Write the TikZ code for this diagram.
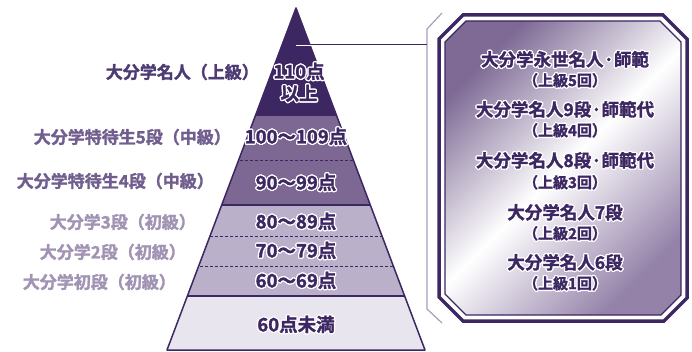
\documentclass[tikz,border=0pt]{standalone}
\usepackage{fontspec}
\setmainfont{Noto Sans CJK JP}[BoldFont={* Bold}, BoldFeatures={FakeBold=1.6}]
\usepackage[copies]{contour}
\contourlength{1.3pt}
\contournumber{12}
\usetikzlibrary{positioning}
\definecolor{pyrdark}{HTML}{3C2762}
\definecolor{pyrmid}{HTML}{7C6892}
\definecolor{pyrlight}{HTML}{BBB0C9}
\definecolor{pyrpale}{HTML}{E9E5EF}
\definecolor{lbltop}{HTML}{4D3B73}
\definecolor{lblmid}{HTML}{705E8E}
\definecolor{lbllow}{HTML}{A193B3}
\definecolor{brkline}{HTML}{A99DBC}
\definecolor{boxlow}{HTML}{7E6A95}
\definecolor{boxhigh}{HTML}{9482A9}

\tikzset{
  edge/.style={draw=pyrdark, line width=1.5pt},
  lbl/.style={anchor=east, font=\bfseries\fontsize{17}{17}\selectfont, inner sep=0pt},
  num/.style={text=pyrdark, font=\bfseries\fontsize{18.5}{18.5}\selectfont, inner sep=0pt},
  rank/.style={text=pyrdark, font=\bfseries\fontsize{17.5}{17.5}\selectfont, inner sep=0pt},
  times/.style={text=pyrdark, font=\bfseries\fontsize{15}{15}\selectfont, inner sep=0pt}
}

\begin{document}
\begin{tikzpicture}[x=1pt, y=-1pt]
  \useasboundingbox (0,0) rectangle (692,352);

  % pyramid
  \coordinate (apex) at (296,8);
  \coordinate (bl) at (167,350);
  \coordinate (br) at (425,350);
  \begin{scope}
    \clip (apex) -- (bl) -- (br) -- cycle;
    \fill[pyrdark] (160,0) rectangle (430,115);
    \fill[pyrmid] (160,115) rectangle (430,205);
    \fill[pyrlight] (160,205) rectangle (430,296);
    \fill[pyrpale] (160,296) rectangle (430,352);
    \draw[edge] (160,115) -- (430,115) (160,205) -- (430,205) (160,296) -- (430,296);
    \draw[draw=pyrdark, line width=0.8pt, dash pattern=on 3pt off 2pt]
      (160,160) -- (430,160) (160,236) -- (430,236) (160,266) -- (430,266);
  \end{scope}
  \draw[edge, line join=round] (apex) -- (bl) -- (br) -- cycle;

  % left labels
  \node[lbl, text=lbltop] (meijin) at (259,72) {大分学名人（上級）};
  \node[lbl, text=lblmid] (toku5) at (231,137) {大分学特待生5段（中級）};
  \node[lbl, text=lblmid] (toku4) at (214,181) {大分学特待生4段（中級）};
  \node[lbl, text=lbllow] (dan3) at (196,222) {大分学3段（初級）};
  \node[lbl, text=lbllow] (dan2) at (186,252) {大分学2段（初級）};
  \node[lbl, text=lbllow] (shodan) at (176,282) {大分学初段（初級）};

  % scores
  \node[num] (s110) at (299,72) {\contour{white}{110点}};
  \node[num] (ijo) at (299,94) {\contour{white}{以上}};
  \node[num] (s100) at (296,137) {\contour{white}{100～109点}};
  \node[num] (s90) at (296,183) {\contour{white}{90～99点}};
  \node[num] (s80) at (296,222) {\contour{white}{80～89点}};
  \node[num] (s70) at (296,251) {\contour{white}{70～79点}};
  \node[num] (s60) at (296,281) {\contour{white}{60～69点}};
  \node[num] (under) at (296,325) {\contour{white}{60点未満}};

  % bracket and link
  \coordinate (bt) at (442,13);
  \coordinate (bu) at (427,29);
  \coordinate (bd) at (427,309);
  \coordinate (bb) at (442,323);
  \draw[brkline, line width=1.2pt] (bt) -- (bu) -- (bd) -- (bb);
  \coordinate (hook) at (296,45);
  \coordinate (tip) at (427,45);
  \draw[draw=white, line width=2.4pt] (hook) -- ++(35,0);
  \draw[pyrdark, line width=1pt] (hook) -- (tip);

  % box
  \draw[pyrdark, line width=3.5pt, line join=miter]
    (463,15) -- (663,15) -- (687,39) -- (687,298) -- (664,321) -- (463,321) -- (439,297) -- (439,39) -- cycle;
  \shade[left color=boxlow, right color=boxhigh, middle color=white, shading angle=45]
    (466,21) -- (660,21) -- (681,42) -- (681,295) -- (661,315) -- (466,315) -- (445,294) -- (445,42) -- cycle;
  \draw[pyrdark, line width=1.2pt]
    (466,21) -- (660,21) -- (681,42) -- (681,295) -- (661,315) -- (466,315) -- (445,294) -- (445,42) -- cycle;

  \node[rank] (eisei) at (565,60) {\contour{white}{大分学永世名人·師範}};
  \node[times] (k5) at (565,81) {\contour{white}{（上級5回）}};
  \node[rank] (m9) at (565,110) {\contour{white}{大分学名人9段·師範代}};
  \node[times] (k4) at (565,131) {\contour{white}{（上級4回）}};
  \node[rank] (m8) at (565,161) {\contour{white}{大分学名人8段·師範代}};
  \node[times] (k3) at (565,183) {\contour{white}{（上級3回）}};
  \node[rank] (m7) at (565,213) {\contour{white}{大分学名人7段}};
  \node[times] (k2) at (565,234) {\contour{white}{（上級2回）}};
  \node[rank] (m6) at (565,263) {\contour{white}{大分学名人6段}};
  \node[times] (k1) at (565,284) {\contour{white}{（上級1回）}};
\end{tikzpicture}
\end{document}
